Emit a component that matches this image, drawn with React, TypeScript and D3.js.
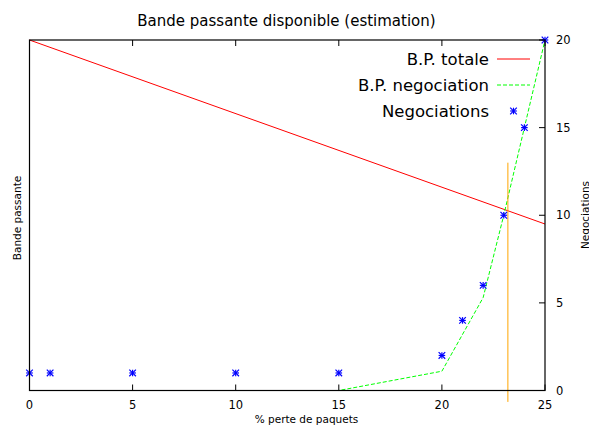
import React from 'react';
import * as d3 from 'd3';

// data
const xTicks = [0, 5, 10, 15, 20, 25];
const y2Ticks = [0, 5, 10, 15, 20];

const totaleX = [0, 25];
const totaleY = [20, 9.5];

const negoLineX = [0, 15, 20, 22, 23, 25];
const negoLineY = [0, 0, 1.1, 5.3, 10, 20];

const negoPtsX = [0, 1, 5, 10, 15, 20, 21, 22, 23, 24, 25];
const negoPtsY = [1, 1, 1, 1, 1, 2, 4, 6, 10, 15, 20];

const seuilX = 23.2;
const seuilY = [-0.65, 13];

const legendLabels = ['B.P. totale', 'B.P. negociation', 'Negociations'];

const W = 589;
const H = 425;
const margin = { top: 40, right: 44, bottom: 34.5, left: 29.5 };

function Star({ x, y, r = 3.3 }: { x: number; y: number; r?: number }) {
  return (
    <g stroke="#0000ff" strokeWidth={1.2}>
      <line x1={x - r} x2={x + r} y1={y} y2={y} />
      <line x1={x} x2={x} y1={y - r} y2={y + r} />
      <line x1={x - r} x2={x + r} y1={y - r} y2={y + r} />
      <line x1={x - r} x2={x + r} y1={y + r} y2={y - r} />
    </g>
  );
}

export default function App() {
  const x0 = margin.left;
  const x1 = W - margin.right;
  const yTop = margin.top;
  const yBot = H - margin.bottom;

  const xScale = d3.scaleLinear().domain([0, 25]).range([x0, x1]);
  const y2Scale = d3.scaleLinear().domain([0, 20]).range([yBot, yTop]);
  const y1Scale = d3.scaleLinear().domain([0, 20]).range([yBot, yTop]);

  const line = d3.line<[number, number]>().x(d => xScale(d[0]));

  const totalePath = line.y(d => y1Scale(d[1]))(totaleX.map((v, i) => [v, totaleY[i]]));
  const negoPath = d3
    .line<[number, number]>()
    .x(d => xScale(d[0]))
    .y(d => y2Scale(d[1]))(negoLineX.map((v, i) => [v, negoLineY[i]]));

  const font = 'DejaVu Sans, sans-serif';
  const tickLen = 6;

  const legX = 489;
  const legY = [59, 85, 111];

  return (
    <svg width={W} height={H} style={{ position: 'absolute', left: 0, top: 0 }} fontFamily={font}>
      <rect width={W} height={H} fill="#fff" />
      <text x={286.5} y={26} textAnchor="middle" fontSize={15}>
        Bande passante disponible (estimation)
      </text>

      {/* x ticks, mirrored top */}
      {xTicks.map(t => (
        <g key={'x' + t}>
          <line x1={xScale(t)} x2={xScale(t)} y1={yBot} y2={yBot - tickLen} stroke="#000" />
          <line x1={xScale(t)} x2={xScale(t)} y1={yTop} y2={yTop + tickLen} stroke="#000" />
          <text x={xScale(t)} y={409} textAnchor="middle" fontSize={11.5}>
            {t}
          </text>
        </g>
      ))}

      {/* y2 ticks on right */}
      {y2Ticks.map(t => (
        <g key={'y' + t}>
          <line x1={x1} x2={x1 - tickLen} y1={y2Scale(t)} y2={y2Scale(t)} stroke="#000" />
          <text x={556} y={y2Scale(t) + 4} fontSize={11.5}>
            {t}
          </text>
        </g>
      ))}

      <text x={306.5} y={423} textAnchor="middle" fontSize={10.5}>
        % perte de paquets
      </text>
      <text transform="translate(21,218) rotate(-90)" textAnchor="middle" fontSize={10.5}>
        Bande passante
      </text>
      <text transform="translate(589,215) rotate(-90)" textAnchor="middle" fontSize={10.5}>
        Negociations
      </text>

      {/* series */}
      <path d={totalePath || ''} fill="none" stroke="#ff0000" strokeWidth={1} />
      <path d={negoPath || ''} fill="none" stroke="#00ff00" strokeWidth={1} strokeDasharray="4,2" />
      <line
        x1={xScale(seuilX)}
        x2={xScale(seuilX)}
        y1={y2Scale(seuilY[0])}
        y2={y2Scale(seuilY[1])}
        stroke="#ffa500"
        strokeWidth={1}
      />
      {negoPtsX.map((v, i) => (
        <Star key={'p' + i} x={xScale(v)} y={y2Scale(negoPtsY[i])} />
      ))}

      {/* frame */}
      <rect x={x0} y={yTop} width={x1 - x0} height={yBot - yTop} fill="none" stroke="#000" strokeWidth={1.2} />

      {/* legend */}
      {legendLabels.map((l, i) => (
        <text key={l} x={legX} y={legY[i] + 6} textAnchor="end" fontSize={16.5}>
          {l}
        </text>
      ))}
      <line x1={497} x2={530} y1={legY[0]} y2={legY[0]} stroke="#ff0000" />
      <line x1={497} x2={530} y1={legY[1]} y2={legY[1]} stroke="#00ff00" strokeDasharray="4,2" />
      <Star x={513.5} y={legY[2]} />
    </svg>
  );
}
